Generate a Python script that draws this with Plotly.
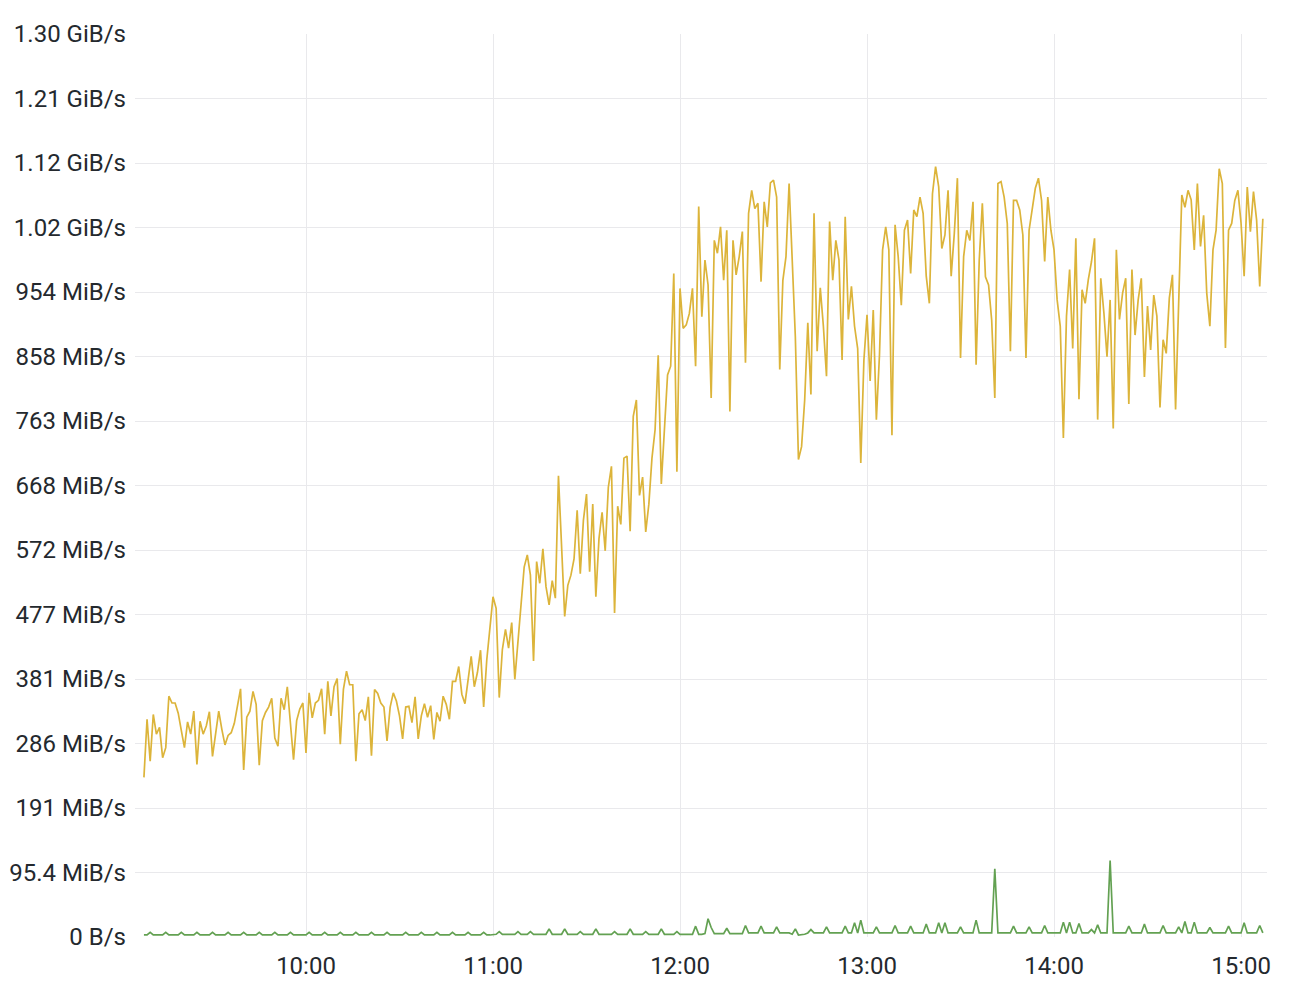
import plotly.graph_objects as go
import pandas as pd

# ---- data, one value per minute from 09:08 ----
START = "2024-01-01 09:08"
N_POINTS = 360

read_mib = [
    236, 322, 260, 329, 300, 310, 265, 280, 356, 346,
    346, 331, 305, 280, 318, 300, 334, 255, 319, 300,
    312, 333, 267, 299, 334, 307, 284, 298, 302, 316,
    341, 367, 247, 325, 334, 363, 344, 254, 320, 332,
    340, 353, 294, 282, 353, 336, 370, 320, 262, 320,
    337, 346, 272, 361, 324, 346, 350, 367, 300, 378,
    327, 370, 382, 285, 366, 393, 373, 373, 260, 330,
    336, 320, 355, 268, 366, 360, 346, 340, 290, 340,
    361, 349, 327, 293, 340, 341, 317, 355, 293, 327,
    345, 325, 342, 292, 332, 319, 356, 344, 322, 378,
    378, 400, 359, 345, 380, 415, 370, 391, 424, 340,
    410, 462, 503, 486, 354, 425, 455, 427, 465, 381,
    440, 494, 547, 565, 535, 408, 555, 523, 574, 518,
    491, 527, 501, 682, 577, 474, 520, 535, 559, 631,
    537, 616, 655, 540, 640, 503, 589, 628, 571, 665,
    696, 479, 637, 610, 708, 711, 600, 770, 794, 653,
    680, 599, 640, 708, 750, 860, 670, 760, 831, 844,
    981, 688, 959, 900, 905, 922, 959, 844, 1080, 917,
    1001, 964, 797, 1030, 1011, 1050, 971, 1045, 777, 1030,
    979, 1006, 1043, 849, 1070, 1104, 1077, 1085, 969, 1087,
    1050, 1115, 1119, 1094, 839, 971, 1006, 1114, 1001, 888,
    706, 725, 794, 908, 802, 1070, 866, 960, 903, 829,
    1058, 971, 1030, 1001, 853, 1065, 913, 962, 903, 870,
    701, 853, 920, 822, 927, 765, 861, 1016, 1050, 1016,
    742, 1053, 1006, 934, 1045, 1060, 981, 1075, 1065, 1094,
    1070, 977, 937, 1099, 1139, 1109, 1018, 1038, 1104, 977,
    1040, 1122, 856, 1006, 1045, 1030, 1087, 846, 1000, 1085,
    976, 964, 912, 797, 1114, 1117, 1094, 1055, 866, 1089,
    1089, 1075, 1038, 856, 1045, 1075, 1107, 1122, 1089, 999,
    1094, 1045, 1016, 942, 903, 738, 918, 987, 870, 1033,
    795, 957, 937, 972, 998, 1033, 765, 974, 923, 858,
    942, 752, 1016, 913, 952, 974, 788, 987, 890, 942,
    974, 828, 933, 868, 949, 918, 783, 883, 863, 945,
    979, 780, 952, 1097, 1079, 1104, 1090, 1016, 1114, 1021,
    1067, 952, 903, 1016, 1045, 1136, 1114, 871, 1045, 1055,
    1089, 1104, 1056, 977, 1109, 1043, 1102, 1060, 962, 1062,
]

write_mib = [
    3, 3, 7, 3, 3, 3, 3, 7, 3, 3,
    3, 3, 7, 3, 3, 3, 3, 7, 3, 3,
    3, 3, 7, 3, 3, 3, 3, 7, 3, 3,
    3, 3, 7, 3, 3, 3, 3, 7, 3, 3,
    3, 3, 7, 3, 3, 3, 3, 7, 3, 3,
    3, 3, 3, 7, 3, 3, 3, 3, 7, 3,
    3, 3, 3, 7, 3, 3, 3, 3, 7, 3,
    3, 3, 3, 7, 3, 3, 3, 3, 7, 3,
    3, 3, 3, 3, 7, 3, 3, 3, 3, 7,
    3, 3, 3, 3, 7, 3, 3, 3, 3, 7,
    3, 3, 3, 3, 7, 3, 3, 3, 3, 7,
    3, 3, 4, 4, 8, 4, 4, 4, 4, 4,
    8, 4, 4, 4, 8, 4, 4, 4, 4, 4,
    12, 4, 4, 4, 4, 12, 4, 4, 4, 4,
    8, 4, 4, 4, 4, 12, 4, 4, 4, 4,
    4, 8, 4, 4, 4, 4, 12, 4, 4, 4,
    4, 8, 4, 4, 4, 4, 12, 4, 4, 4,
    4, 8, 4, 4, 4, 4, 4, 16, 4, 4,
    5, 27, 14, 5, 5, 5, 5, 13, 5, 5,
    5, 5, 5, 17, 6, 6, 6, 6, 16, 6,
    6, 6, 6, 15, 6, 6, 6, 6, 4, 12,
    3, 3, 4, 6, 11, 6, 6, 6, 6, 15,
    6, 6, 6, 6, 6, 16, 6, 6, 21, 6,
    25, 6, 6, 6, 6, 15, 6, 6, 6, 6,
    6, 17, 6, 6, 6, 6, 16, 6, 6, 6,
    6, 19, 6, 6, 6, 21, 6, 21, 6, 6,
    6, 6, 15, 6, 6, 6, 6, 25, 6, 6,
    6, 6, 6, 101, 6, 6, 6, 6, 6, 16,
    6, 6, 6, 6, 15, 6, 6, 6, 6, 17,
    6, 6, 6, 6, 6, 22, 6, 22, 6, 6,
    20, 6, 6, 6, 11, 6, 18, 6, 6, 6,
    113, 6, 6, 6, 6, 6, 16, 6, 6, 6,
    6, 19, 6, 6, 6, 6, 6, 17, 6, 6,
    6, 6, 15, 6, 23, 6, 6, 22, 6, 6,
    6, 6, 14, 6, 6, 6, 6, 6, 16, 6,
    6, 6, 6, 21, 6, 6, 6, 6, 17, 6,
]

y_tick_values = [0, 1e8, 2e8, 3e8, 4e8, 5e8, 6e8, 7e8, 8e8, 9e8,
                 1e9, 1.1e9, 1.2e9, 1.3e9, 1.4e9]
y_tick_labels = ["0 B/s", "95.4 MiB/s", "191 MiB/s", "286 MiB/s", "381 MiB/s",
                 "477 MiB/s", "572 MiB/s", "668 MiB/s", "763 MiB/s", "858 MiB/s",
                 "954 MiB/s", "1.02 GiB/s", "1.12 GiB/s", "1.21 GiB/s", "1.30 GiB/s"]
x_tick_values = ["2024-01-01 10:00", "2024-01-01 11:00", "2024-01-01 12:00",
                 "2024-01-01 13:00", "2024-01-01 14:00", "2024-01-01 15:00"]
x_tick_labels = ["10:00", "11:00", "12:00", "13:00", "14:00", "15:00"]

MIB = 1048576
times = pd.date_range(START, periods=N_POINTS, freq="1min")
read_bytes = [v * MIB for v in read_mib]
write_bytes = [v * MIB for v in write_mib]

GRID = "#e9e9ec"
TEXT = "#24292e"

fig = go.Figure()
fig.add_trace(go.Scatter(x=times, y=read_bytes, mode="lines", name="read",
                         line=dict(color="#dcb43a", width=1.7)))
fig.add_trace(go.Scatter(x=times, y=write_bytes, mode="lines", name="write",
                         line=dict(color="#63a152", width=1.7)))

# page body has an 8px margin, so the figure is sized/offset to compensate
fig.update_layout(
    width=1298, height=974,
    margin=dict(l=127, r=39, t=26, b=45),
    paper_bgcolor="white", plot_bgcolor="white",
    showlegend=False,
    font=dict(family="Roboto, sans-serif", size=24, color=TEXT),
)
fig.update_xaxes(
    range=["2024-01-01 09:05:08", "2024-01-01 15:08:20"],
    tickvals=x_tick_values, ticktext=x_tick_labels,
    showgrid=True, gridcolor=GRID, gridwidth=1,
    zeroline=False, showline=False, ticks="",
    tickfont=dict(size=24, color=TEXT),
    ticklabelstandoff=12, automargin=False,
)
fig.update_yaxes(
    range=[0, 1.4e9],
    tickvals=y_tick_values, ticktext=y_tick_labels,
    showgrid=True, gridcolor=GRID, gridwidth=1,
    zeroline=False, showline=False, ticks="",
    tickfont=dict(size=24, color=TEXT),
    ticklabelstandoff=8, automargin=False,
)

fig.write_html("out.html", config={"displayModeBar": False})
